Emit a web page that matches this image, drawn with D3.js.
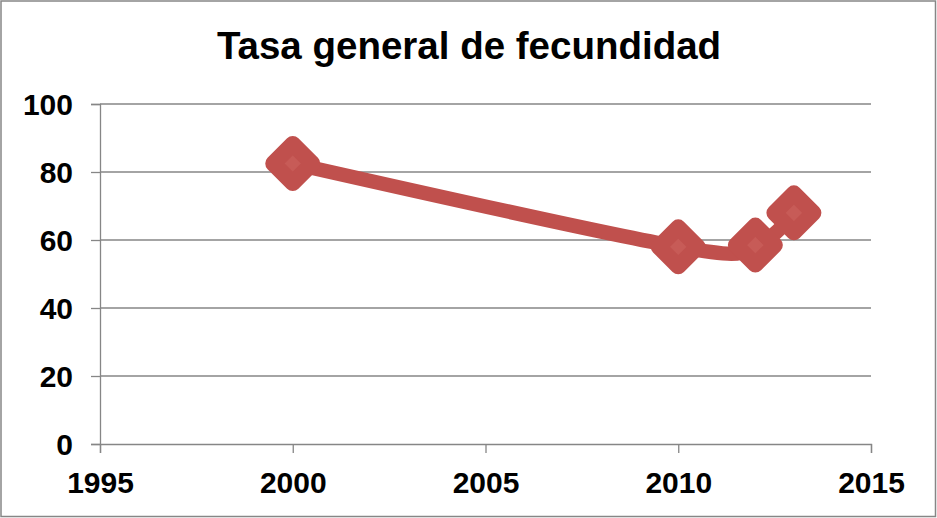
<!DOCTYPE html>
<html>
<head>
<meta charset="utf-8">
<script src="https://cdn.jsdelivr.net/npm/d3@7"></script>
<style>
html,body{margin:0;padding:0;background:#fff;}
svg{display:block;}
text{font-family:"Liberation Sans",Arial,sans-serif;font-weight:bold;fill:#000;}
</style>
</head>
<body>
<svg id="chart" width="937" height="518"></svg>
<script>
const title = "Tasa general de fecundidad";
const years = [2000, 2010, 2012, 2013];
const values = [82.5, 58, 58.5, 68];
const xTicks = [1995, 2000, 2005, 2010, 2015];
const yTicks = [0, 20, 40, 60, 80, 100];

const W = 937, H = 518;
const svg = d3.select("#chart");
const gridColor = "#868686";
const red = "#C0504D";

svg.append("rect").attr("x", 1).attr("y", 1).attr("width", W - 2.5).attr("height", H - 2.5)
  .attr("fill", "#fff").attr("stroke", gridColor).attr("stroke-width", 1.5);

const x = d3.scaleLinear().domain([1995, 2015]).range([100, 871]);
const y = d3.scaleLinear().domain([0, 100]).range([444, 104]);

svg.append("text").attr("x", 469).attr("y", 59).attr("text-anchor", "middle")
  .style("font-size", "38.5px").text(title);

svg.append("g").selectAll("line").data(yTicks.filter(d => d > 0)).join("line")
  .attr("x1", x(1995)).attr("x2", x(2015))
  .attr("y1", d => y(d)).attr("y2", d => y(d))
  .attr("stroke", gridColor).attr("stroke-width", 1.3);

const yAxis = svg.append("g").attr("transform", `translate(${x(1995)},0)`)
  .call(d3.axisLeft(y).tickValues(yTicks).tickSize(9).tickPadding(18).tickFormat(d3.format("d")));
yAxis.select(".domain").attr("stroke", gridColor).attr("stroke-width", 1.3);
yAxis.selectAll(".tick line").attr("stroke", gridColor).attr("stroke-width", 1.3);
yAxis.selectAll("text").style("font-size", "30px").attr("font-family", null).attr("dy", "0.36em");

const xAxis = svg.append("g").attr("transform", `translate(0,${y(0)})`)
  .call(d3.axisBottom(x).tickValues(xTicks).tickSize(9).tickPadding(18.7).tickFormat(d3.format("d")));
xAxis.select(".domain").attr("stroke", gridColor).attr("stroke-width", 1.3);
xAxis.selectAll(".tick line").attr("stroke", gridColor).attr("stroke-width", 1.3);
xAxis.selectAll("text").style("font-size", "30px").attr("font-family", null).attr("dy", "0.71em");

svg.selectAll(".tick text").attr("fill", "#000");
svg.selectAll("g").attr("font-size", null);

const pts = years.map((yr, i) => [x(yr), y(values[i])]);
svg.append("path").datum(pts)
  .attr("d", d3.line().curve(d3.curveCardinal.tension(0)))
  .attr("fill", "none").attr("stroke", red).attr("stroke-width", 14.5)
  .attr("stroke-linejoin", "round").attr("stroke-linecap", "round");

const r = 19.5;
const diamond = `M0,${-r}L${r},0L0,${r}L${-r},0Z`;
const mk = svg.append("g").selectAll("g").data(pts).join("g")
  .attr("transform", d => `translate(${d[0]},${d[1]})`);
mk.append("path").attr("d", diamond).attr("fill", "#C75B57")
  .attr("stroke", red).attr("stroke-width", 16).attr("stroke-linejoin", "round");
</script>
</body>
</html>
